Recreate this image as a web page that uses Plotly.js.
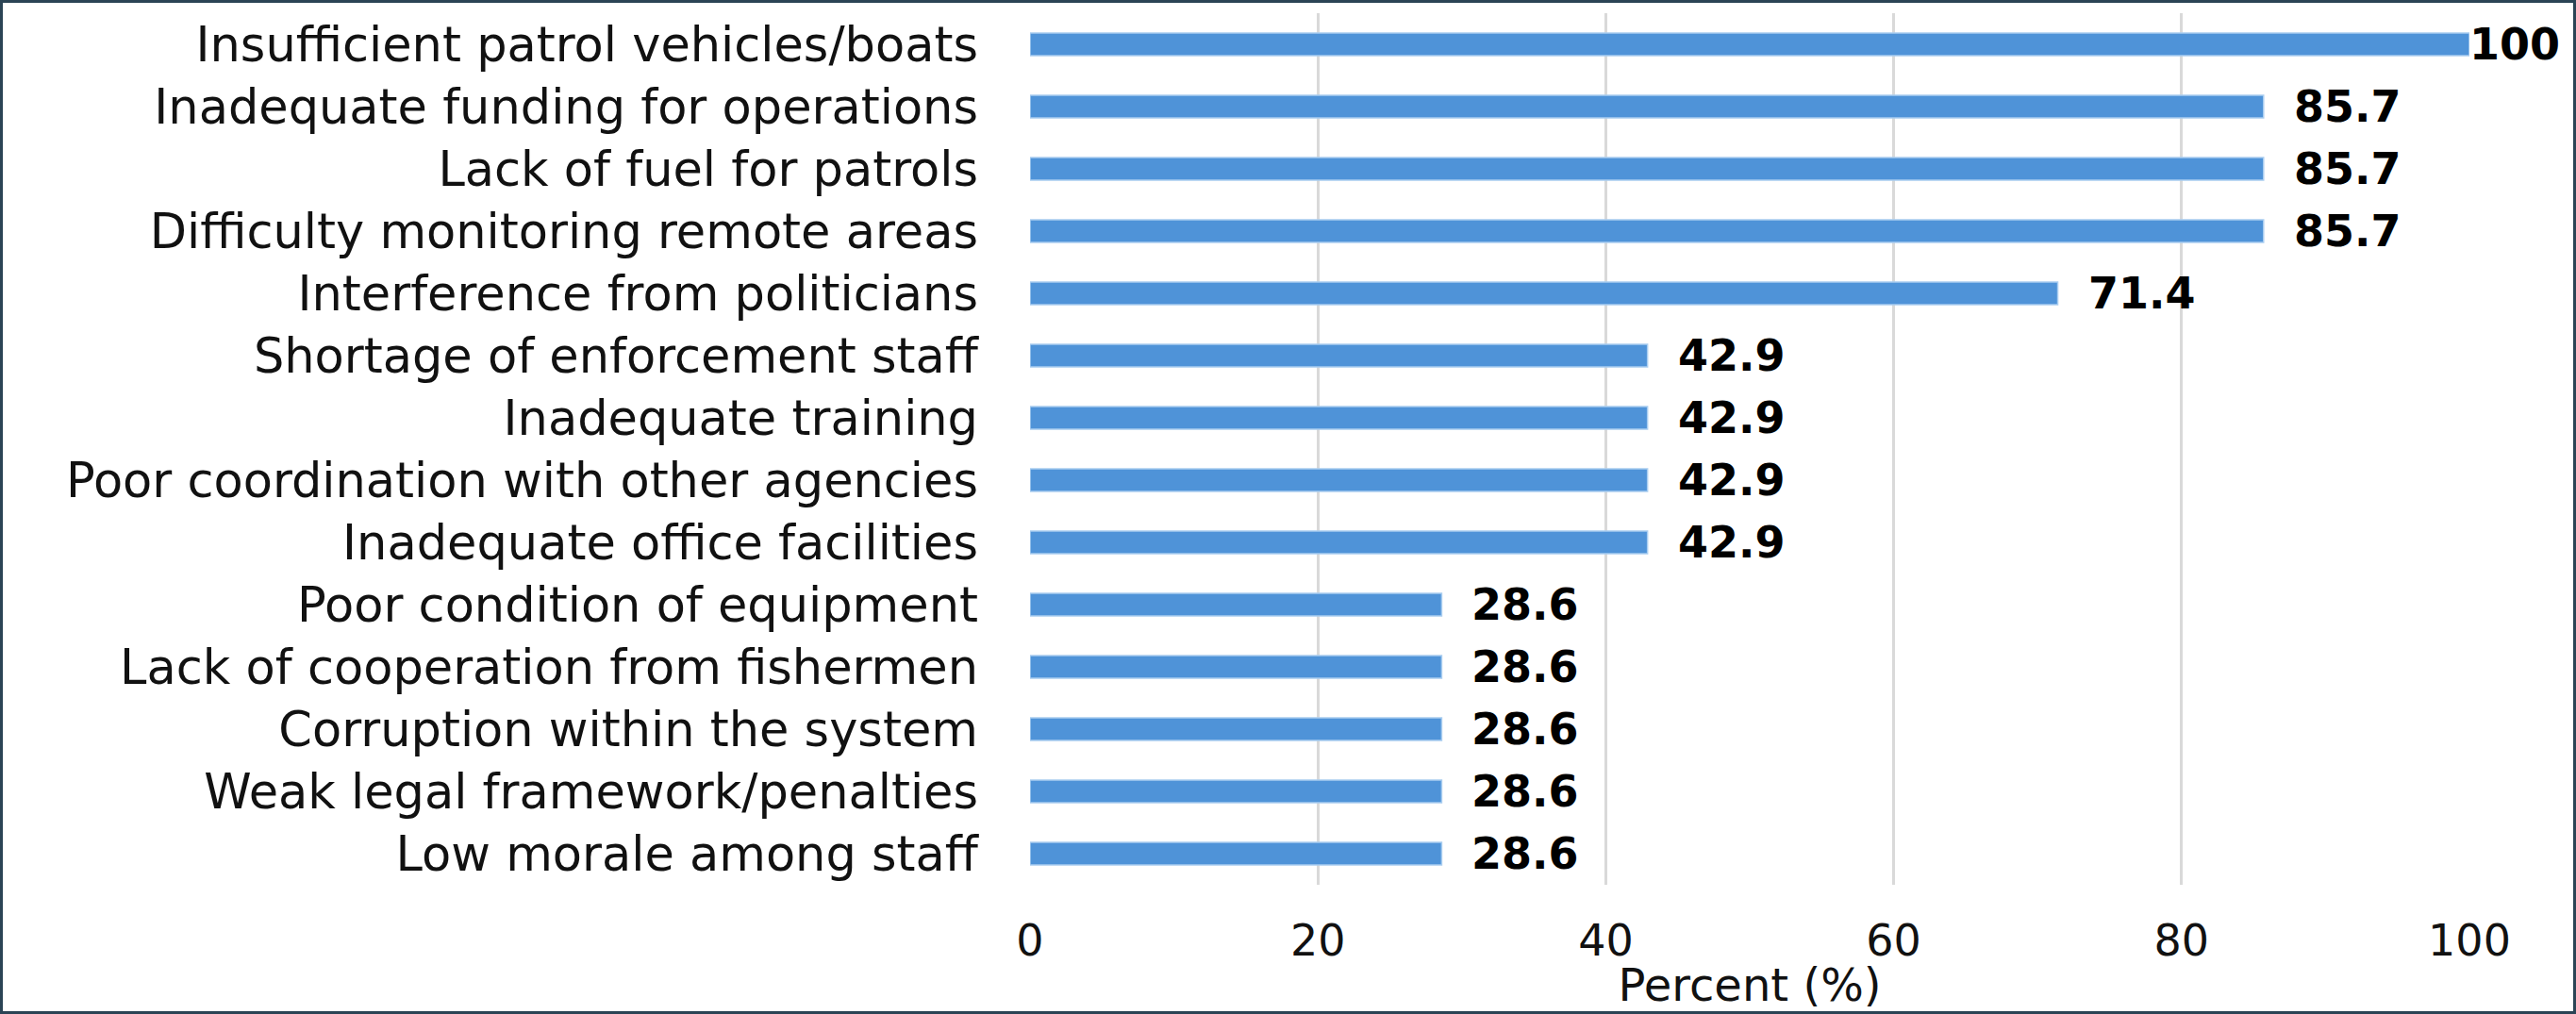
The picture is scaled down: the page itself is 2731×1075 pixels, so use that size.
<!DOCTYPE html>
<html>
<head>
<meta charset="utf-8">
<script src="https://cdn.plot.ly/plotly-3.0.1.min.js"></script>
<style>
html,body{margin:0;padding:0;background:#fff;}
#wrap{width:2731px;height:1075px;box-sizing:border-box;border:3px solid #2b4455;overflow:hidden;}
#chart{width:2725px;height:1069px;}
</style>
</head>
<body>
<div id="wrap"><div id="chart"></div></div>
<script>
const categories = [
  "Insufficient patrol vehicles/boats",
  "Inadequate funding for operations",
  "Lack of fuel for patrols",
  "Difficulty monitoring remote areas",
  "Interference from politicians",
  "Shortage of enforcement staff",
  "Inadequate training",
  "Poor coordination with other agencies",
  "Inadequate office facilities",
  "Poor condition of equipment",
  "Lack of cooperation from fishermen",
  "Corruption within the system",
  "Weak legal framework/penalties",
  "Low morale among staff"
];
const percents = [100, 85.7, 85.7, 85.7, 71.4, 42.9, 42.9, 42.9, 42.9, 28.6, 28.6, 28.6, 28.6, 28.6];
const xTicks = [0, 20, 40, 60, 80, 100];

const trace = {
  type: 'bar',
  orientation: 'h',
  y: categories,
  x: percents,
  width: 0.36,
  marker: {color: '#4f93d8', line: {color: '#a9cdf0', width: 1.5}},
  hoverinfo: 'x+y'
};

const annotations = categories.map((c, i) => ({
  x: percents[i], y: c, xref: 'x', yref: 'y',
  text: String(percents[i]),
  showarrow: false, xanchor: 'left', yanchor: 'middle',
  xshift: percents[i] >= 100 ? -2 : 30,
  font: {family: 'DejaVu Sans, sans-serif', size: 46, color: '#000', weight: 'bold'}
}));

const layout = {
  width: 2725, height: 1069,
  margin: {l: 1089, r: 110, t: 11, b: 134},
  paper_bgcolor: '#ffffff', plot_bgcolor: '#ffffff',
  showlegend: false,
  xaxis: {
    range: [0, 100],
    tickvals: xTicks,
    ticktext: xTicks.map(String),
    showgrid: true, gridcolor: '#d9d9d9', gridwidth: 3,
    zeroline: false, showline: false,
    ticks: '', ticklabelstandoff: 28,
    tickfont: {family: 'DejaVu Sans, sans-serif', size: 46, color: '#111'},
    title: {text: 'Percent (%)', font: {family: 'DejaVu Sans, sans-serif', size: 48, color: '#111'}, standoff: 0},
    automargin: false,
    fixedrange: true
  },
  yaxis: {
    categoryorder: 'array', categoryarray: categories,
    autorange: 'reversed',
    showgrid: false, zeroline: false, showline: false,
    ticks: '', ticklabelstandoff: 54,
    tickfont: {family: 'DejaVu Sans, sans-serif', size: 51, color: '#111'},
    automargin: false,
    fixedrange: true
  },
  annotations: annotations
};

Plotly.newPlot('chart', [trace], layout, {displayModeBar: false, staticPlot: true});
</script>
</body>
</html>
